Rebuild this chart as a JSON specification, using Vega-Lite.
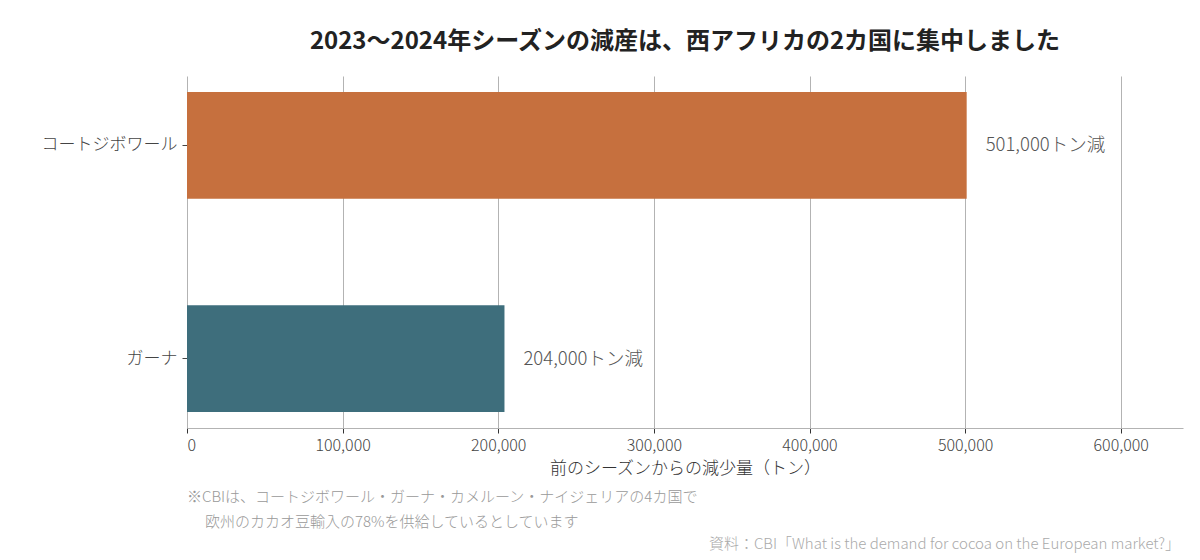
{
  "$schema": "https://vega.github.io/schema/vega-lite/v6.json",
  "autosize": {"type": "none"},
  "padding": {"left": 187, "top": 76, "right": 17, "bottom": 132},
  "width": 996,
  "height": 352,
  "title": {
    "text": "2023〜2024年シーズンの減産は、西アフリカの2カ国に集中しました",
    "anchor": "middle",
    "frame": "group",
    "font": "Noto Sans CJK JP",
    "fontSize": 24,
    "fontWeight": "bold",
    "color": "#222222",
    "offset": 22
  },
  "config": {
    "font": "Noto Sans CJK JP",
    "view": {"stroke": null}
  },
  "data": {
    "values": [
      {"country": "コートジボワール", "decrease": 501000, "label": "501,000トン減"},
      {"country": "ガーナ", "decrease": 204000, "label": "204,000トン減"}
    ]
  },
  "encoding": {
    "y": {
      "field": "country",
      "type": "nominal",
      "sort": null,
      "scale": {"paddingInner": 0.5, "paddingOuter": 0.075},
      "axis": {
        "title": null,
        "domain": false,
        "grid": false,
        "ticks": true,
        "tickSize": 5,
        "tickColor": "#444444",
        "labelFontSize": 17,
        "labelFontWeight": 300,
        "labelColor": "#444444",
        "labelPadding": 5
      }
    },
    "x": {
      "field": "decrease",
      "type": "quantitative",
      "scale": {"domain": [0, 640000], "nice": false},
      "axis": {
        "title": "前のシーズンからの減少量（トン）",
        "titleFontSize": 17,
        "titleFontWeight": 300,
        "titleColor": "#333333",
        "titleBaseline": "middle",
        "titleY": 40,
        "values": [0, 100000, 200000, 300000, 400000, 500000, 600000],
        "format": ",d",
        "grid": true,
        "gridColor": "#b3b3b3",
        "domainColor": "#b3b3b3",
        "tickColor": "#333333",
        "tickSize": 5,
        "labelFontSize": 16,
        "labelFontWeight": 300,
        "labelColor": "#444444",
        "labelPadding": 4
      }
    }
  },
  "layer": [
    {
      "mark": {"type": "bar"},
      "encoding": {
        "color": {
          "field": "country",
          "type": "nominal",
          "scale": {
            "domain": ["コートジボワール", "ガーナ"],
            "range": ["#c6703e", "#3e6e7c"]
          },
          "legend": null
        }
      }
    },
    {
      "mark": {
        "type": "text",
        "align": "left",
        "baseline": "middle",
        "dx": 19,
        "fontSize": 18.5,
        "fontWeight": 300,
        "color": "#555555"
      },
      "encoding": {"text": {"field": "label"}}
    },
    {
      "data": {
        "values": [
          {"note": "※CBIは、コートジボワール・ガーナ・カメルーン・ナイジェリアの4カ国で"}
        ]
      },
      "mark": {
        "type": "text",
        "align": "left",
        "baseline": "middle",
        "fontSize": 15,
        "fontWeight": 300,
        "color": "#999999",
        "x": 0,
        "y": {"expr": "height + 69"}
      },
      "encoding": {
        "text": {"field": "note"},
        "x": null,
        "y": null
      }
    },
    {
      "data": {
        "values": [
          {"note": "欧州のカカオ豆輸入の78%を供給しているとしています"}
        ]
      },
      "mark": {
        "type": "text",
        "align": "left",
        "baseline": "middle",
        "fontSize": 15,
        "fontWeight": 300,
        "color": "#999999",
        "x": 18,
        "y": {"expr": "height + 94"}
      },
      "encoding": {
        "text": {"field": "note"},
        "x": null,
        "y": null
      }
    },
    {
      "data": {
        "values": [
          {"source": "資料：CBI「What is the demand for cocoa on the European market?」"}
        ]
      },
      "mark": {
        "type": "text",
        "align": "right",
        "baseline": "middle",
        "fontSize": 15,
        "fontWeight": 300,
        "color": "#aaaaaa",
        "x": {"expr": "width - 3"},
        "y": {"expr": "height + 116"}
      },
      "encoding": {
        "text": {"field": "source"},
        "x": null,
        "y": null
      }
    }
  ]
}
